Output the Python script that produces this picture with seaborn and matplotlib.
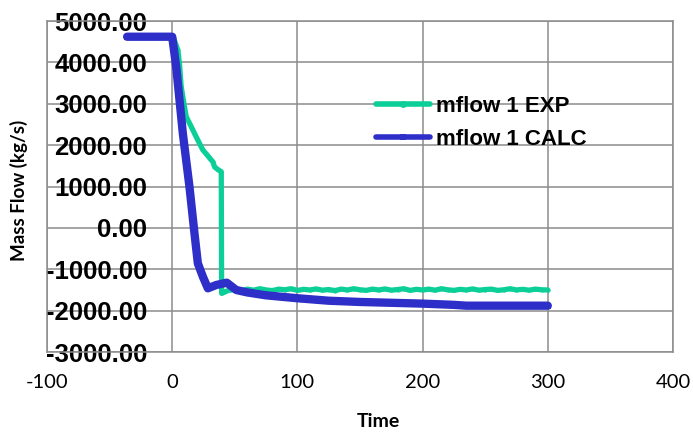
import numpy as np
import pandas as pd
import seaborn as sns
import matplotlib.pyplot as plt

exp_time = [-36, 0, 1, 4.5, 5.8, 7.2, 9.8, 11.2, 15.2, 20, 24.5, 28, 31.2, 32.5, 33.8, 36, 39.2, 39.5, 41, 45.8,
            50, 55, 60, 65, 70, 75, 80, 85, 90, 95, 100, 105, 110, 115, 120, 125, 130, 135, 140, 145,
            150, 155, 160, 165, 170, 175, 180, 185, 190, 195, 200, 205, 210, 215, 220, 225, 230, 235,
            240, 245, 250, 255, 260, 265, 270, 275, 280, 285, 290, 295, 300]
exp_flow = [4620, 4620, 4600, 4300, 3978, 3413, 2929, 2688, 2446, 2150, 1883, 1760, 1641, 1600, 1479, 1420, 1358, -1581, -1560, -1501,
            -1490, -1520, -1480, -1505, -1470, -1500, -1515, -1480, -1495, -1470, -1510, -1485, -1500, -1475, -1505, -1490, -1515, -1480, -1500, -1470,
            -1495, -1510, -1480, -1500, -1475, -1505, -1490, -1470, -1510, -1485, -1500, -1480, -1505, -1470, -1495, -1510, -1485, -1500,
            -1475, -1505, -1490, -1480, -1510, -1495, -1470, -1500, -1485, -1505, -1480, -1495, -1500]

# calculated mass flow (CALC)
calc_time = [-36, 0, 3.2, 8.5, 13.8, 17.8, 20.5, 24.5, 28.5, 35.2, 43.6, 51.2, 60, 75, 100, 125, 150, 175, 200, 225, 235, 300]
calc_flow = [4620, 4620, 3896, 2286, 996, -131, -856, -1179, -1460, -1380, -1324, -1501, -1560, -1630, -1700, -1760, -1790,
             -1810, -1830, -1860, -1880, -1880]

x_ticks = [-100, 0, 100, 200, 300, 400]
y_ticks = [-3000, -2000, -1000, 0, 1000, 2000, 3000, 4000, 5000]

green = "#0ccf98"
blue = "#2e2ec8"
grid_col = "#8c8c8c"

df_exp = pd.DataFrame({"Time": exp_time, "flow": exp_flow})
df_calc = pd.DataFrame({"Time": calc_time, "flow": calc_flow})

sns.set_style("white")
plt.rcParams['font.family'] = ['Liberation Sans', 'DejaVu Sans']
plt.rcParams['text.color'] = 'black'
plt.rcParams['axes.labelcolor'] = 'black'
plt.rcParams['xtick.color'] = 'black'
plt.rcParams['ytick.color'] = 'black'

fig = plt.figure(figsize=(6.93, 4.33), dpi=100)
ax = fig.add_axes([0.0678, 0.187, 0.9033, 0.7645])

sns.lineplot(data=df_exp, x="Time", y="flow", sort=False, estimator=None, ax=ax,
             color=green, linewidth=3.8, marker="o", markersize=3, markeredgewidth=0,
             label="mflow 1 EXP")
sns.lineplot(data=df_calc, x="Time", y="flow", sort=False, estimator=None, ax=ax,
             color=blue, linewidth=6, marker="s", markersize=5, markeredgewidth=0,
             label="mflow 1 CALC")

ax.set_xlim(-100, 400)
ax.set_ylim(-3000, 5000)
ax.set_xticks(x_ticks)
ax.set_yticks(y_ticks)
ax.set_yticklabels([f"{v:.2f}" for v in y_ticks], fontsize=18.5, fontweight="bold")
ax.set_xticklabels([str(v) for v in x_ticks], fontsize=14.5, family="Lato")
ax.tick_params(axis="y", length=0, pad=-72, labelcolor="black")
ax.tick_params(axis="x", length=0, pad=16, labelcolor="black")

ax.grid(True, color=grid_col, linewidth=1.1)
ax.set_axisbelow(True)
for s in ax.spines.values():
    s.set_color(grid_col)
    s.set_linewidth(1.1)

ax.set_xlabel("Time", fontsize=14, fontweight="bold", family="Lato", va="center", color="black")
ax.xaxis.set_label_coords(0.529, -0.21)
ax.set_ylabel("Mass Flow (kg/s)", fontsize=13.5, fontweight="bold", family="Lato", va="center", color="black")
ax.yaxis.set_label_coords(-0.045, 0.488)

leg = ax.legend(loc="center left", bbox_to_anchor=(0.5256, 0.693), frameon=False,
                handlelength=2.45, handletextpad=0.27, labelspacing=0.55,
                borderpad=0, borderaxespad=0, prop={"size": 16, "weight": "bold"})
for h in leg.get_lines():
    h.set_linewidth(4)
    h.set_markersize(5)
for t in leg.get_texts():
    t.set_color("black")

fig.savefig("out.png", dpi=100)
